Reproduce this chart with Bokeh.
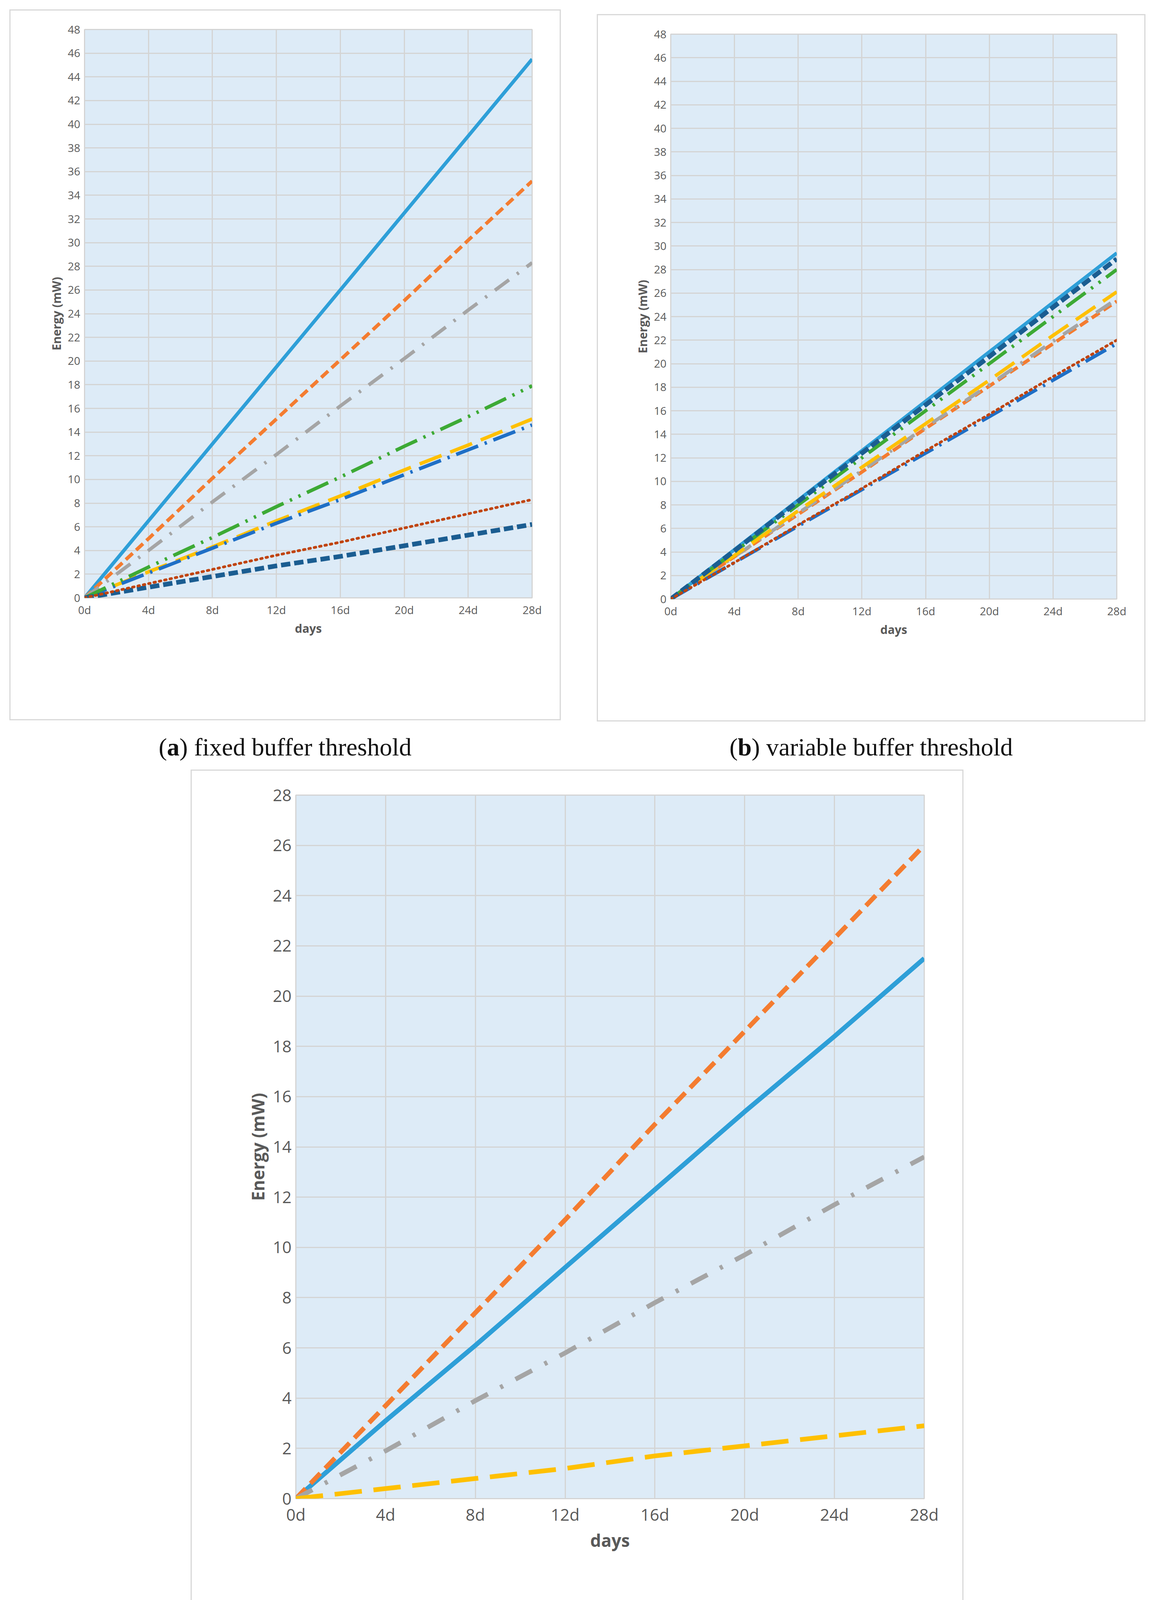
from bokeh.plotting import figure
from bokeh.models import Range1d, Legend, LegendItem, FixedTicker, Div
from bokeh.layouts import column, row
from bokeh.embed import file_html
from bokeh.resources import INLINE

days = [0, 4, 8, 12, 16, 20, 24, 28]
day_labels = ["0d", "4d", "8d", "12d", "16d", "20d", "24d", "28d"]
sensor_names = ["sensor 1", "sensor 2", "sensor 3", "sensor 4", "sensor 5", "sensor 6", "sensor 7", "sensor 8"]

fixed_s1 = [0, 6.5, 13.0, 19.5, 26.0, 32.5, 39.0, 45.5]
fixed_s2 = [0, 5.0, 10.1, 15.1, 20.1, 25.1, 30.2, 35.2]
fixed_s3 = [0, 4.0, 8.1, 12.1, 16.2, 20.2, 24.3, 28.3]
fixed_s4 = [0, 2.2, 4.3, 6.5, 8.6, 10.8, 12.9, 15.1]
fixed_s5 = [0, 2.1, 4.2, 6.3, 8.3, 10.4, 12.5, 14.6]
fixed_s6 = [0, 2.6, 5.1, 7.7, 10.2, 12.8, 15.3, 17.9]
fixed_s7 = [0, 0.9, 1.8, 2.7, 3.5, 4.4, 5.3, 6.2]
fixed_s8 = [0, 1.2, 2.4, 3.6, 4.7, 5.9, 7.1, 8.3]

var_s1 = [0, 4.2, 8.4, 12.6, 16.8, 21.0, 25.2, 29.4]
var_s2 = [0, 3.6, 7.2, 10.8, 14.5, 18.1, 21.7, 25.3]
var_s3 = [0, 3.6, 7.3, 10.9, 14.6, 18.2, 21.9, 25.5]
var_s4 = [0, 3.7, 7.5, 11.2, 14.9, 18.6, 22.4, 26.1]
var_s5 = [0, 3.1, 6.2, 9.3, 12.4, 15.5, 18.6, 21.7]
var_s6 = [0, 4.0, 8.0, 12.0, 16.0, 20.0, 24.0, 28.0]
var_s7 = [0, 4.1, 8.3, 12.4, 16.5, 20.6, 24.8, 28.9]
var_s8 = [0, 3.1, 6.3, 9.4, 12.6, 15.7, 18.9, 22.0]

stat_names = ["the mean (fixed buffer threshold)", "the mean (variable buffer threshold)",
              "standard deviation (fixed buffer threshold)", "standard deviation (variable buffer threshold)"]
mean_fixed = [0, 3.1, 6.1, 9.2, 12.3, 15.4, 18.4, 21.5]
mean_var = [0, 3.7, 7.4, 11.1, 14.9, 18.6, 22.3, 26.0]
sd_fixed = [0, 1.9, 3.9, 5.8, 7.8, 9.7, 11.7, 13.6]
sd_var = [0, 0.4, 0.8, 1.2, 1.7, 2.1, 2.5, 2.9]

FONT = "Open Sans"
TXT = "#595959"
GRID = "#D4D4D4"
BG = "#DDEBF7"

sensor_styles = [
    ("#2E9FD8", "solid", 9),
    ("#F47C30", "24 12", 9),
    ("#A5A5A5", "45 25 6 25", 9),
    ("#FFC000", "60 24", 9),
    ("#1F6FC6", "60 18 6 18", 9),
    ("#3DAA35", "60 18 6 18 6 18", 9),
    ("#1B5D91", "24 10", 12),
    ("#C0440F", "4 10", 7),
]


def base(w, h, ymax, ystep, margins, fs, tfs):
    ml, mr, mt, mb = margins
    p = figure(width=w, height=h, output_backend="svg", toolbar_location=None,
               x_range=Range1d(0, 28), y_range=Range1d(0, ymax),
               min_border_left=ml, min_border_right=mr, min_border_top=mt, min_border_bottom=mb)
    p.background_fill_color = BG
    p.border_fill_color = "white"
    p.outline_line_color = GRID
    p.outline_line_width = 3
    p.styles = {"border": "3px solid #D9D9D9", "box-sizing": "border-box"}
    for g in (p.xgrid, p.ygrid):
        g.grid_line_color = GRID
        g.grid_line_width = 3
    p.xaxis.ticker = FixedTicker(ticks=days)
    p.xaxis.major_label_overrides = {d: l for d, l in zip(days, day_labels)}
    p.yaxis.ticker = FixedTicker(ticks=list(range(0, ymax + 1, ystep)))
    for ax in (p.xaxis, p.yaxis):
        ax.axis_line_color = None
        ax.major_tick_line_color = None
        ax.minor_tick_line_color = None
        ax.major_label_text_font = FONT
        ax.major_label_text_font_size = f"{fs}px"
        ax.major_label_text_color = TXT
        ax.axis_label_text_font = FONT
        ax.axis_label_text_font_size = f"{tfs}px"
        ax.axis_label_text_font_style = "bold"
        ax.axis_label_text_color = TXT
    p.xaxis.axis_label = "days"
    p.yaxis.axis_label = "Energy (mW)"
    return p


def sensor_panel(series, w, h, margins):
    p = base(w, h, 48, 2, margins, 28, 30)
    items = []
    for name, ys, (c, d, lw) in zip(sensor_names, series, sensor_styles):
        r = p.line(days, ys, line_color=c, line_dash=d, line_width=lw, line_cap="round" if d == "4 10" else "butt")
        items.append(LegendItem(label=name, renderers=[r]))
    leg = Legend(items=items, orientation="horizontal", ncols=4, location=(6, -320),
                 label_text_font=FONT, label_text_font_size="28px", label_text_color=TXT,
                 glyph_width=120, glyph_height=34, label_standoff=8, label_width=120,
                 spacing=36, padding=0, margin=0, border_line_color=None, background_fill_alpha=0)
    p.add_layout(leg, "center")
    return p


pa = sensor_panel([fixed_s1, fixed_s2, fixed_s3, fixed_s4, fixed_s5, fixed_s6, fixed_s7, fixed_s8],
                  1412, 1820, (189, 77, 48, 317))
pa.margin = (24, 0, 0, 24)
pb = sensor_panel([var_s1, var_s2, var_s3, var_s4, var_s5, var_s6, var_s7, var_s8],
                  1405, 1811, (186, 77, 48, 302))
pb.margin = (36, 0, 0, 92)

pc = base(1979, 2548, 28, 2, (266, 104, 62, 685), 42, 44)
stat_styles = [("#2E9FD8", "solid", 12), ("#F47C30", "36 18", 12),
               ("#A5A5A5", "48 36 8 36", 12), ("#FFC000", "70 30", 12)]
items = []
for name, ys, (c, d, lw) in zip(stat_names, [mean_fixed, mean_var, sd_fixed, sd_var], stat_styles):
    r = pc.line(days, ys, line_color=c, line_dash=d, line_width=lw)
    items.append(LegendItem(label=name, renderers=[r]))
legc = Legend(items=items, orientation="vertical", location=(124, -640),
              label_text_font=FONT, label_text_font_size="42px", label_text_color=TXT,
              glyph_width=160, glyph_height=60, label_standoff=14, spacing=40,
              padding=0, margin=0, border_line_color=None, background_fill_alpha=0)
pc.add_layout(legc, "center")
pc.margin = (0, 0, 0, 488)

cap_style = {"font-family": "Liberation Serif, serif", "font-size": "64px", "color": "#111",
             "text-align": "center", "width": "100%"}
cap_a = Div(text="(<b>a</b>) fixed buffer threshold", width=1412, height=103, margin=(20, 0, 0, 24),
            styles=cap_style)
cap_b = Div(text="(<b>b</b>) variable buffer threshold", width=1405, height=103, margin=(20, 0, 0, 92),
            styles=cap_style)
cap_c = Div(text="(<b>c</b>) the mean and standard deviation", width=1979, height=100, margin=(20, 0, 0, 488),
            styles=cap_style)

layout = column(row(pa, pb), row(cap_a, cap_b), pc, cap_c)
open("out.html", "w").write(file_html(layout, INLINE))
